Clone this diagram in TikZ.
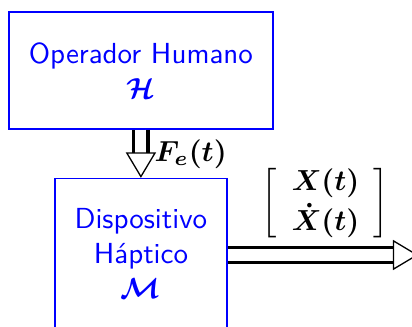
\documentclass[tikz,border=0pt]{standalone}
\usepackage{amsmath}
\usepackage{amssymb}
\usepackage{tikz}
\usetikzlibrary{arrows.meta, positioning, calc}
\definecolor{pureblue}{RGB}{0,0,255}

\begin{document}
\begin{tikzpicture}[
  node distance=16.6pt,
  box/.style={rectangle, draw=pureblue, line width=0.5pt, align=center,
              font=\sffamily\fontsize{10}{12}\selectfont\color{pureblue}},
  bigarrow/.style={double, double distance=3.8pt, line width=1.3pt,
                   -{Triangle[open, length=8.8pt, width=10.4pt, line width=0.45pt]}},
  sig/.style={font=\fontsize{10}{12}\selectfont, inner sep=0pt}
]
  \useasboundingbox (0,0) rectangle (142.1pt,-112.5pt);
  \node[box, minimum width=91.1pt, minimum height=40.4pt] (human) at (48.6pt,-24.3pt)
    {Operador Humano\\$\boldsymbol{\mathcal{H}}$};
  \node[box, minimum width=59.3pt, minimum height=64pt, below=of human] (haptic) {};
  \node[box, draw=none, inner sep=0pt, below=10.3pt of haptic.north] (hapticname)
    {Dispositivo\\Háptico\\$\boldsymbol{\mathcal{M}}$};
  \coordinate (xout) at ($(haptic.north east)+(0.2pt,-26.6pt)$);
  \coordinate (xend) at ($(xout)+(65.6pt,0)$);

  \draw[bigarrow] (human) -- node[sig, midway, right=4.1pt] {$\boldsymbol{F_e(t)}$} (haptic);
  \draw[bigarrow] (xout) -- node[sig, midway, above=4.2pt, xshift=0.8pt]
    {$\left[\begin{array}{c}\boldsymbol{X(t)}\\[0.8pt] \boldsymbol{\dot{X}(t)}\end{array}\right]$} (xend);
\end{tikzpicture}
\end{document}
